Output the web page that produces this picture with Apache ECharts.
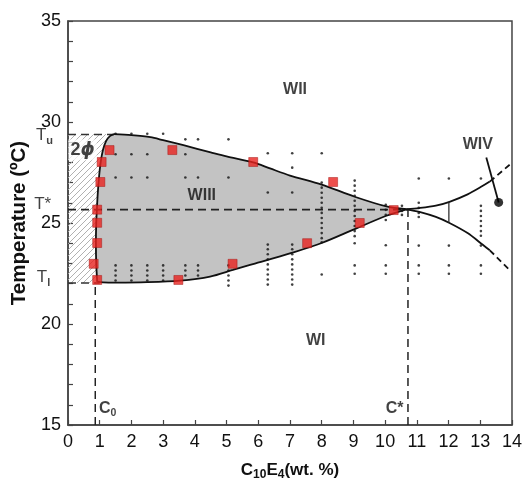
<!DOCTYPE html>
<html><head><meta charset="utf-8">
<script src="https://cdn.jsdelivr.net/npm/echarts@6/dist/echarts.min.js"></script>
<style>html,body{margin:0;padding:0;background:#fff}#c{width:525px;height:486px}</style>
</head><body><div id="c"></div>
<script>
// ---- data ----
const T_u = 29.38, T_l = 22.03, T_star = 25.66, C_0 = 0.86, C_star = 10.72;
const leftBoundary = [[0.92,22.1],[0.89,23.0],[0.88,24.0],[0.89,25.0],[0.91,25.65],[0.94,26.5],[0.98,27.3],[1.03,28.0],[1.1,28.6],[1.2,29.05],[1.32,29.3],[1.45,29.4]];
const upperBoundary = [[1.45,29.4],[2.0,29.35],[2.6,29.25],[3.0,29.1],[3.64,28.85],[4.5,28.5],[5.0,28.3],[5.84,28.0],[6.37,27.7],[7.0,27.35],[8.0,26.9],[9.04,26.3],[10.04,25.82],[10.67,25.68]];
const lowerBoundary = [[0.92,22.1],[1.1,22.06],[1.55,22.05],[2.5,22.07],[3.54,22.15],[4.48,22.35],[5.2,22.68],[5.74,22.93],[6.05,23.06],[7.05,23.52],[8.0,24.01],[9.04,24.7],[10.04,25.36],[10.67,25.68]];
const rightUpperSolid = [[10.67,25.68],[11.08,25.74],[11.6,25.86],[12.03,26.05],[12.6,26.42],[13.08,26.84],[13.3,27.05]];
const rightUpperDashed = [[13.3,27.05],[13.97,27.94]];
const rightLowerSolid = [[10.67,25.68],[11.08,25.55],[11.6,25.3],[12.03,25.0],[12.6,24.5],[13.08,23.92],[13.3,23.65]];
const rightLowerDashed = [[13.3,23.65],[13.97,22.6]];
const tieLine12 = [[12.01,25.0],[12.01,26.05]];

const redX = [1.31,1.06,1.02,0.92,0.92,0.92,0.81,0.92,3.29,5.84,8.36,10.27,9.20,7.54,5.19,3.48];
const redT = [28.61,28.02,27.03,25.66,25.01,24.01,22.98,22.18,28.61,28.02,27.03,25.64,25.0,24.0,22.98,22.18];

const dotColX = [1.5,2.0,2.5,3.0,3.7,4.1,5.06,6.3,7.07,8.0,9.04,10.02,10.53,11.06,12.01,13.02];
const dotColT = [
  [29.42,28.4,27.25,22.9,22.65,22.4,22.15],
  [29.42,28.4,27.25,22.9,22.65,22.4,22.15],
  [29.42,28.4,27.25,22.9,22.65,22.4,22.15],
  [29.42,22.9,22.65,22.4,22.15],
  [29.14,28.4,27.25,22.9,22.65,22.4],
  [29.14,27.25,22.9,22.65,22.4],
  [29.14,27.25,22.9,22.65,22.4,22.15,21.9],
  [28.45,26.51,23.93,23.7,23.45,23.2,22.95,22.7,22.45,22.2,21.95],
  [28.45,27.74,26.51,23.93,23.7,23.45,23.2,22.95,22.7,22.45,22.2,21.95],
  [28.45,27.0,26.75,26.5,26.25,26.0,25.75,25.5,25.25,25.0,24.75,24.5,24.25,24.05,22.45],
  [27.1,26.85,26.6,26.35,26.1,25.85,25.6,25.35,25.1,24.85,24.6,24.35,24.0,22.9,22.49],
  [25.9,25.65,25.4,25.15,23.9,22.9,22.49],
  [25.85,25.6,25.4],
  [27.2,26.0,25.75,25.5,25.3,23.88,22.9,22.49],
  [27.2,23.88,22.9,22.49],
  [27.2,25.85,25.6,25.35,25.1,24.85,24.6,24.37,23.88,22.9,22.49]
];

const wivLeader = [[13.19,28.24],[13.58,26.02]];
const wivPoint = [13.58,26.02];

const labelTexts = ['WII','WIII','WI','WIV','C{sub|0}','C*'];
const labelX = [7.16,4.22,7.81,12.92,1.25,10.3];
const labelY = [31.6,26.35,19.2,28.9,15.8,15.83];
const phiText = '2{i|ϕ}';
const phiPos = [0.46,28.62];

const sideTexts = ['T{sub|u}','T*','T{sub|l}'];
const sideX = [-0.74,-0.8,-0.77];
const sideY = [29.32,25.92,22.3];

// ---- build ----
const dots = [];
dotColX.forEach((x,i)=>dotColT[i].forEach(t=>dots.push([x,t])));
const reds = redX.map((x,i)=>[x,redT[i]]);
const grayPoly = leftBoundary.concat(upperBoundary.slice(1)).concat(lowerBoundary.slice().reverse().slice(1));
const hatchPoly = [[0,T_l],[0,T_u]].concat(leftBoundary.slice().reverse()).concat([[0.92,T_l]]);

const pc = document.createElement('canvas');
pc.width = 6; pc.height = 6;
const g = pc.getContext('2d');
g.strokeStyle = '#a8a8a8'; g.lineWidth = 0.9;
g.beginPath(); g.moveTo(0,6); g.lineTo(6,0); g.moveTo(-1,1); g.lineTo(1,-1); g.moveTo(5,7); g.lineTo(7,5); g.stroke();

const FONT = 'Liberation Sans, Arial, sans-serif';
const dash = [8,5];
function polyItem(points, style){
  return {type:'custom', coordinateSystem:'cartesian2d', data:[[0,15]], silent:true, z:1,
    renderItem:(p,api)=>({type:'polygon', shape:{points:points.map(q=>api.coord(q))}, style:style})};
}
function lineS(data, opts){
  return Object.assign({type:'line', data:data, symbol:'none', silent:true, z:3,
    lineStyle:{color:'#111', width:1.8}}, opts||{});
}

const chart = echarts.init(document.getElementById('c'), null, {renderer:'canvas'});
chart.setOption({
  animation:false,
  grid:{left:68, right:12, top:21, bottom:59, show:true, borderColor:'#444', borderWidth:1.5},
  xAxis:{type:'value', min:0, max:14, interval:1,
    axisLine:{lineStyle:{color:'#444', width:1.5}},
    axisTick:{inside:true, length:5, lineStyle:{color:'#444', width:1.2}},
    axisLabel:{color:'#111', fontSize:18, fontFamily:FONT, margin:8},
    splitLine:{show:false},
    name:'C{sub|10}E{sub|4}{m|(wt. %)}', nameLocation:'middle', nameGap:34,
    nameTextStyle:{color:'#111', fontSize:17, fontWeight:'bold', fontFamily:FONT,
      rich:{sub:{fontSize:12, fontWeight:'bold', fontFamily:FONT, verticalAlign:'bottom', padding:[10,0,0,0]},
            m:{fontSize:17, fontWeight:'bold', fontFamily:FONT}}}
  },
  yAxis:{type:'value', min:15, max:35, interval:5,
    axisLine:{show:true, lineStyle:{color:'#444', width:1.5}},
    axisTick:{show:true, inside:true, length:5, lineStyle:{color:'#444', width:1.2}},
    minorTick:{show:true, splitNumber:5, length:5, lineStyle:{color:'#444', width:1.2}},
    axisLabel:{color:'#111', fontSize:18, fontFamily:FONT, margin:7},
    splitLine:{show:false},
    name:'Temperature (ºC)', nameLocation:'middle', nameGap:31, nameRotate:90,
    nameTextStyle:{color:'#111', fontSize:20.5, fontWeight:'bold', fontFamily:FONT}
  },
  series:[
    polyItem(hatchPoly, {fill:{image:pc, repeat:'repeat'}}),
    polyItem(grayPoly, {fill:'#c3c3c3'}),
    lineS([[0,T_u],[1.45,T_u]], {lineStyle:{color:'#333', width:1.5, type:dash}}),
    lineS([[0,T_l],[1.0,T_l]], {lineStyle:{color:'#333', width:1.5, type:dash}}),
    lineS([[0,T_star],[10.7,T_star]], {lineStyle:{color:'#222', width:1.6, type:dash}}),
    lineS([[C_0,15],[C_0,T_l]], {lineStyle:{color:'#222', width:1.5, type:dash}}),
    lineS([[C_star,15],[C_star,T_star]], {lineStyle:{color:'#222', width:1.5, type:dash}}),
    lineS(leftBoundary, {smooth:0.3}),
    lineS(upperBoundary, {smooth:0.3}),
    lineS(lowerBoundary, {smooth:0.3}),
    lineS(rightUpperSolid, {smooth:0.3}),
    lineS(rightLowerSolid, {smooth:0.3}),
    lineS(rightUpperDashed, {lineStyle:{color:'#111', width:1.8, type:[6,4]}}),
    lineS(rightLowerDashed, {lineStyle:{color:'#111', width:1.8, type:[6,4]}}),
    lineS(tieLine12, {lineStyle:{color:'#222', width:1.2}}),
    lineS(wivLeader, {lineStyle:{color:'#111', width:1.8}}),
    {type:'scatter', data:dots, symbol:'circle', symbolSize:2.6, itemStyle:{color:'#111'}, silent:true, z:4},
    {type:'scatter', data:reds, symbol:'rect', symbolSize:9, itemStyle:{color:'#e8231f', borderColor:'#a31512', borderWidth:0.6}, silent:true, z:5},
    {type:'scatter', data:[wivPoint], symbol:'circle', symbolSize:9, itemStyle:{color:'#000'}, silent:true, z:5},
    {type:'scatter', data:labelX.map((x,i)=>[x,labelY[i],labelTexts[i]]), symbolSize:0, silent:true, z:6, clip:false,
      label:{show:true, position:'inside', formatter:p=>p.value[2], color:'#111', fontSize:16, fontWeight:'bold', fontFamily:FONT,
        rich:{sub:{fontSize:10.5, fontWeight:'bold', fontFamily:FONT, verticalAlign:'bottom', padding:[9,0,0,0]}}}},
    {type:'scatter', data:[[phiPos[0],phiPos[1],phiText]], symbolSize:0, silent:true, z:6, clip:false,
      label:{show:true, position:'inside', formatter:p=>p.value[2], color:'#111', fontSize:18, fontWeight:'bold', fontFamily:FONT,
        backgroundColor:'rgba(255,255,255,0.92)', padding:[2,2,1,2],
        rich:{i:{fontSize:18, fontWeight:'bold', fontStyle:'italic', fontFamily:'DejaVu Sans, sans-serif'}}}},
    {type:'scatter', data:sideX.map((x,i)=>[x,sideY[i],sideTexts[i]]), symbolSize:0, silent:true, z:6, clip:false,
      label:{show:true, position:'inside', formatter:p=>p.value[2], color:'#111', fontSize:17, fontFamily:FONT,
        rich:{sub:{fontSize:11, fontWeight:'bold', fontFamily:FONT, verticalAlign:'bottom', padding:[10,0,0,0]}}}}
  ]
});
</script></body></html>
